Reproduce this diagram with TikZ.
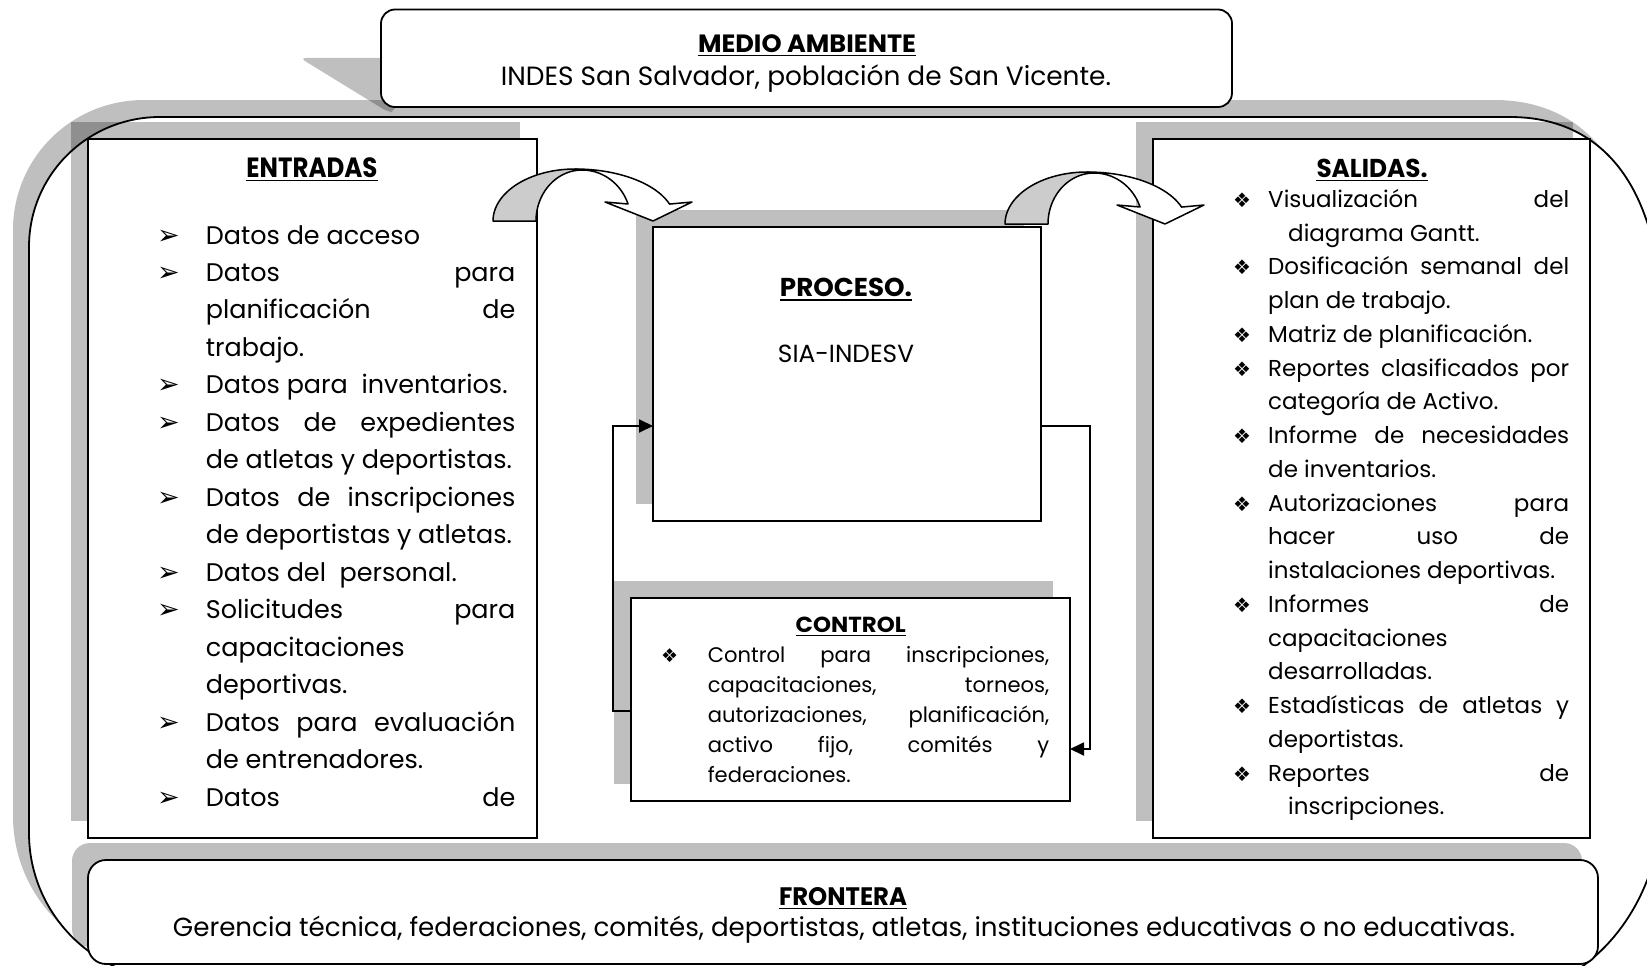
\documentclass[tikz,border=0pt]{standalone}
\usepackage{fontspec}
\usepackage{graphicx}
\setmainfont{Poppins}
\newfontfamily\symfnt{DejaVu Sans}
\usetikzlibrary{arrows.meta}
\newlength\calw
\newcommand\calib[3]{\settowidth{\calw}{\normalfont\fontsize{10}{12}\selectfont #2}\pgfmathsetmacro#1{10*#3/\calw}}
\newcommand\jrow[6]{\node[#1] (#2) at (#3,#4) {\makebox[#5pt][s]{#6}};}
\newcommand\nrow[5]{\node[#1] (#2) at (#3,#4) {#5};}
\begin{document}
\calib{\esz}{de atletas y deportistas.}{306}%
\calib{\ssz}{instalaciones deportivas.}{287}%
\calib{\csz}{federaciones.}{143}%
\begin{tikzpicture}[x=1pt,y=-1pt,
  box/.style={draw, line width=2pt, fill=white, inner sep=0pt, outer sep=0pt},
  shade/.style={fill=black, fill opacity=0.25, draw=none},
  hd/.style={inner sep=0pt, anchor=base},
  ul/.style={line width=1.6pt},
  etxt/.style={inner sep=0pt, anchor=base west, font=\fontsize{\esz}{\esz}\selectfont},
  stxt/.style={inner sep=0pt, anchor=base west, font=\fontsize{\ssz}{\ssz}\selectfont},
  ctxt/.style={inner sep=0pt, anchor=base west, font=\fontsize{\csz}{\csz}\selectfont},
  eb/.style={inner sep=0pt, anchor=base west, font=\symfnt\fontsize{27}{27}\selectfont},
  sb/.style={inner sep=0pt, anchor=base west, font=\symfnt\fontsize{20}{20}\selectfont},
  cb/.style={inner sep=0pt, anchor=base west, font=\symfnt\fontsize{19}{19}\selectfont},
  conn/.style={line width=1.8pt, -{Triangle[length=14pt,width=13pt]}},
  arrowback/.style={fill=gray!40, draw, line width=1.5pt, line join=round},
  arrowfront/.style={fill=white, draw, line width=1.5pt, line join=round},
  outershape/.pic={
    \path[pic actions] (160,117) -- (1510,117) .. controls (1605,117) and (1662,190) .. (1662,330)
      -- (1662,800) .. controls (1662,880) and (1620,950) .. (1560,980)
      -- (176,980) .. controls (94.8,980) and (29,914) .. (29,833)
      -- (29,247) .. controls (29,175.2) and (87.2,117) .. (160,117) -- cycle;
  },
  cvarrow/.pic={
    \filldraw[arrowback] (0,0) -- plot[domain=180:270, samples=30, variable=\t] ({82+82*cos(\t)},{52*sin(\t)})
      -- (89,-51) -- plot[domain=270:180, samples=30, variable=\t] ({89+46*cos(\t)},{51*sin(\t)}) -- cycle;
    \filldraw[arrowfront] (82,-52) -- plot[domain=270:341, samples=30, variable=\t] ({82+100*cos(\t)},{52*sin(\t)})
      -- (199,-19) -- (160,0) -- (112,-19) -- (135,-17)
      -- plot[domain=340.5:270, samples=30, variable=\t] ({89+48.8*cos(\t)},{51*sin(\t)}) -- cycle;
  }
]
\useasboundingbox (0,0) rectangle (1647,966);

% outer environment shape
\pic[shade] at (-16,-17) {outershape};
\pic[draw, fill=white, line width=1.8pt] at (0,0) {outershape};

% medio ambiente shadow and box
\fill[shade, rounded corners=6pt] (300,58) -- (395,58) -- (395,112) -- (388,112) -- cycle;
\node[box, line width=1.8pt, rounded corners=14pt, minimum width=851pt, minimum height=97.5pt] (medio) at (806.5,58.25) {};

% shadows of boxes
\fill[shade] (71,122) rectangle (520,821);
\fill[shade] (636,210) rectangle (1024,504);
\fill[shade] (614,581) rectangle (1053,784);
\fill[shade] (1136,122) rectangle (1573,821);
\fill[shade, rounded corners=18pt] (72,843) rectangle (1582,947);

% boxes
\node[box, minimum width=449pt, minimum height=699pt] (ent) at (312.5,488.5) {};
\node[box, minimum width=388pt, minimum height=294pt] (proc) at (847,374) {};
\node[box, minimum width=439pt, minimum height=203pt] (ctrl) at (850.5,699.5) {};
\node[box, minimum width=437pt, minimum height=699pt] (sal) at (1371.5,488.5) {};
\node[box, line width=1.8pt, rounded corners=18pt, minimum width=1510pt, minimum height=104pt] (front) at (843,912) {};

% curved arrows
\pic at (493,221) {cvarrow};
\pic at (1005,224) {cvarrow};

% feedback connectors
\coordinate (fr1) at (1090,426);
\coordinate (fr2) at (1090,749);
\coordinate (fl1) at (613,711);
\coordinate (fl2) at (613,426);
\draw[conn] (proc.east |- fr1) -- (fr1) -- (fr2) -- (ctrl.east |- fr2);
\draw[conn] (ctrl.west |- fl1) -- (fl1) -- (fl2) -- (proc.west |- fl2);

% headings
\node[hd] (hmedio) at (807,52.5) {\resizebox{218pt}{17.8pt}{\bfseries MEDIO AMBIENTE}};
\node[hd] (hent) at (312,177.4) {\resizebox{131pt}{19.8pt}{\bfseries ENTRADAS}};
\node[hd] (hsal) at (1372,177.4) {\resizebox{111pt}{18.4pt}{\bfseries SALIDAS.}};
\node[hd] (hproc) at (846,296.7) {\resizebox{132pt}{18.4pt}{\bfseries PROCESO.}};
\node[hd] (hctrl) at (850.7,632.5) {\resizebox{110pt}{15.5pt}{\bfseries CONTROL}};
\node[hd] (hfront) at (843,905.4) {\resizebox{128pt}{18pt}{\bfseries FRONTERA}};
\foreach \n in {hmedio,hent,hsal,hproc,hctrl,hfront}
  \draw[ul] ([yshift=-3pt]\n.base west) -- ([yshift=-3pt]\n.base east);

% single-line texts
\node[hd] (tmedio) at (806,85) {\resizebox{610pt}{!}{INDES San Salvador, población de San Vicente.}};
\node[hd] (tproc) at (846,362) {\resizebox{136pt}{!}{SIA-INDESV}};
\node[hd] (tfront) at (844,936) {\resizebox{1342pt}{!}{Gerencia técnica, federaciones, comités, deportistas, atletas, instituciones educativas o no educativas.}};

% ENTRADAS list
\nrow{eb}{eb0}{157}{244.0}{➢}
\nrow{etxt}{e0}{205.7}{244.0}{Datos de acceso}
\nrow{eb}{eb1}{157}{281.5}{➢}
\jrow{etxt}{e1}{205.7}{281.5}{309.5}{Datos para}
\jrow{etxt}{e2}{205.7}{318.9}{309.5}{planificación de}
\nrow{etxt}{e3}{205.7}{356.4}{trabajo.}
\nrow{eb}{eb4}{157}{393.9}{➢}
\nrow{etxt}{e4}{205.7}{393.9}{Datos para\ \ inventarios.}
\nrow{eb}{eb5}{157}{431.4}{➢}
\jrow{etxt}{e5}{205.7}{431.4}{309.5}{Datos de expedientes}
\nrow{etxt}{e6}{205.7}{468.8}{de atletas y deportistas.}
\nrow{eb}{eb7}{157}{506.3}{➢}
\jrow{etxt}{e7}{205.7}{506.3}{309.5}{Datos de inscripciones}
\nrow{etxt}{e8}{205.7}{543.8}{de deportistas y atletas.}
\nrow{eb}{eb9}{157}{581.2}{➢}
\nrow{etxt}{e9}{205.7}{581.2}{Datos del\ \ personal.}
\nrow{eb}{eb10}{157}{618.7}{➢}
\jrow{etxt}{e10}{205.7}{618.7}{309.5}{Solicitudes para}
\nrow{etxt}{e11}{205.7}{656.2}{capacitaciones}
\nrow{etxt}{e12}{205.7}{693.6}{deportivas.}
\nrow{eb}{eb13}{157}{731.1}{➢}
\jrow{etxt}{e13}{205.7}{731.1}{309.5}{Datos para evaluación}
\nrow{etxt}{e14}{205.7}{768.6}{de entrenadores.}
\nrow{eb}{eb15}{157}{806.1}{➢}
\jrow{etxt}{e15}{205.7}{806.1}{309.5}{Datos de}

% SALIDAS list
\nrow{sb}{sb0}{1233}{207.2}{❖}
\jrow{stxt}{s0}{1268}{207.2}{301}{Visualización del}
\nrow{stxt}{s1}{1288}{241.0}{diagrama Gantt.}
\nrow{sb}{sb2}{1233}{274.7}{❖}
\jrow{stxt}{s2}{1268}{274.7}{301}{Dosificación semanal del}
\nrow{stxt}{s3}{1268}{308.5}{plan de trabajo.}
\nrow{sb}{sb4}{1233}{342.2}{❖}
\nrow{stxt}{s4}{1268}{342.2}{Matriz de planificación.}
\nrow{sb}{sb5}{1233}{376.0}{❖}
\jrow{stxt}{s5}{1268}{376.0}{301}{Reportes clasificados por}
\nrow{stxt}{s6}{1268}{409.7}{categoría de Activo.}
\nrow{sb}{sb7}{1233}{443.5}{❖}
\jrow{stxt}{s7}{1268}{443.5}{301}{Informe de necesidades}
\nrow{stxt}{s8}{1268}{477.2}{de inventarios.}
\nrow{sb}{sb9}{1233}{511.0}{❖}
\jrow{stxt}{s9}{1268}{511.0}{301}{Autorizaciones para}
\jrow{stxt}{s10}{1268}{544.7}{301}{hacer uso de}
\nrow{stxt}{s11}{1268}{578.5}{instalaciones deportivas.}
\nrow{sb}{sb12}{1233}{612.2}{❖}
\jrow{stxt}{s12}{1268}{612.2}{301}{Informes de}
\nrow{stxt}{s13}{1268}{646.0}{capacitaciones}
\nrow{stxt}{s14}{1268}{679.7}{desarrolladas.}
\nrow{sb}{sb15}{1233}{713.5}{❖}
\jrow{stxt}{s15}{1268}{713.5}{301}{Estadísticas de atletas y}
\nrow{stxt}{s16}{1268}{747.2}{deportistas.}
\nrow{sb}{sb17}{1233}{781.0}{❖}
\jrow{stxt}{s17}{1268}{781.0}{301}{Reportes de}
\nrow{stxt}{s18}{1288}{814.7}{inscripciones.}

% CONTROL list
\nrow{cb}{cb0}{661}{662}{❖}
\jrow{ctxt}{c0}{707.6}{662}{341.5}{Control para inscripciones,}
\jrow{ctxt}{c1}{707.6}{692}{341.5}{capacitaciones, torneos,}
\jrow{ctxt}{c2}{707.6}{722}{341.5}{autorizaciones, planificación,}
\jrow{ctxt}{c3}{707.6}{752}{341.5}{activo fijo, comités y}
\nrow{ctxt}{c4}{707.6}{782}{federaciones.}
\end{tikzpicture}
\end{document}
